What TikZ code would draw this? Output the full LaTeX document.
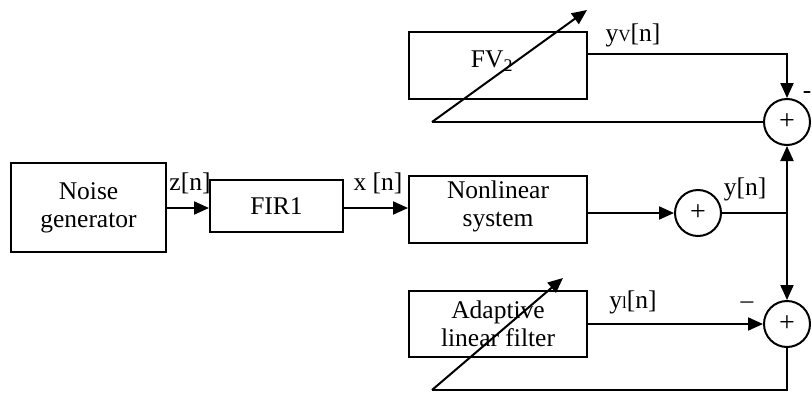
\documentclass[tikz,border=0pt]{standalone}
\usepackage{fontspec}
\setmainfont{Liberation Serif}
\usetikzlibrary{arrows.meta}
\begin{document}
\begin{tikzpicture}[x=1pt,y=-1pt,
  every node/.style={font=\fontsize{25.5}{28}\selectfont},
  blk/.style={draw,line width=2pt,rectangle,inner sep=0pt,align=center},
  sumc/.style={draw,line width=2pt,circle,minimum size=46pt,inner sep=0pt},
  wire/.style={line width=2pt},
  arr/.style={wire,-{Triangle[length=15pt,width=13pt]}},
  lbl/.style={inner sep=0pt}]
\useasboundingbox (0,0) rectangle (812,394);
\node[blk,minimum width=155pt,minimum height=89pt] (noise) at (88.5,207.5) {Noise\\generator};
\node[blk,minimum width=133pt,minimum height=52pt] (fir) at (276.5,206) {FIR1};
\node[blk,minimum width=178pt,minimum height=67pt] (nl) at (498,209.5) {};
\node[lbl,align=center] (nlt) at (498,206) {Nonlinear\\system};
\node[blk,minimum width=178pt,minimum height=67pt] (fv) at (498,65.5) {};
\node[lbl] (fvt) at (492,61) {FV\textsubscript{2}};
\node[blk,minimum width=178pt,minimum height=66pt] (ad) at (498,324) {Adaptive\\linear filter};
\node[sumc] (s1) at (698,213) {\fontsize{28}{28}\selectfont +};
\node[sumc] (s2) at (787,122) {\fontsize{28}{28}\selectfont +};
\node[sumc] (s3) at (787,324) {\fontsize{28}{28}\selectfont +};
\coordinate (j) at (787,213);
\coordinate (fva) at (432,122);
\coordinate (fvb) at (587,10);
\coordinate (ada) at (432,390);
\coordinate (adb) at (563,278);
% connectors
\draw[arr] ([yshift=-0.5pt]noise.east) -- ([yshift=-0.5pt]noise.east -| fir.west);
\draw[arr] ([yshift=-2pt]fir.east) -- ([yshift=-2pt]fir.east -| nl.west);
\draw[arr] (s1.west -| nl.east) -- (s1.west);
\draw[wire] (s1.east) -- (j);
\draw[arr] (j) -- (s2.south);
\draw[arr] (j) -- (s3.north);
\draw[arr] ([yshift=11.5pt]fv.east) -| (s2.north);
\draw[wire] (s2.west) -- (fva);
\draw[arr] (fva) -- (fvb);
\draw[arr] (ad.east) -- (s3.west);
\draw[wire] (s3.south) |- (ada);
\draw[arr] (ada) -- (adb);
% labels
\node[lbl] (zl) at (190,183) {z[n]};
\node[lbl] (xl) at (378,183) {x [n]};
\node[lbl] (yl) at (745,189) {y[n]};
\node[lbl] (yvl) at (633,35) {y{\fontsize{17}{17}\selectfont V}[n]};
\node[lbl] (yll) at (633,302) {y{\fontsize{17}{17}\selectfont l}[n]};
\node[lbl] (m1) at (807,95) {-};
\node[lbl] (m2) at (747,305) {--};
\end{tikzpicture}
\end{document}
